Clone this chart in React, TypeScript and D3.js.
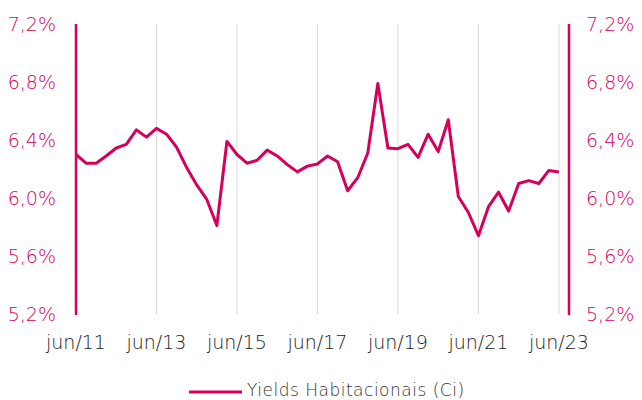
import React from "react";
import * as d3 from "d3";

const quarters: string[] = [
  "jun/11","set/11","dez/11","mar/12","jun/12","set/12","dez/12","mar/13",
  "jun/13","set/13","dez/13","mar/14","jun/14","set/14","dez/14","mar/15",
  "jun/15","set/15","dez/15","mar/16","jun/16","set/16","dez/16","mar/17",
  "jun/17","set/17","dez/17","mar/18","jun/18","set/18","dez/18","mar/19",
  "jun/19","set/19","dez/19","mar/20","jun/20","set/20","dez/20","mar/21",
  "jun/21","set/21","dez/21","mar/22","jun/22","set/22","dez/22","mar/23",
  "jun/23",
];
const yields: number[] = [
  6.30, 6.24, 6.24, 6.29, 6.345, 6.37, 6.47, 6.42,
  6.48, 6.44, 6.35, 6.21, 6.09, 5.99, 5.81, 6.39,
  6.30, 6.24, 6.26, 6.33, 6.29, 6.23, 6.18, 6.22,
  6.235, 6.29, 6.25, 6.05, 6.14, 6.31, 6.79, 6.345,
  6.34, 6.37, 6.28, 6.44, 6.32, 6.54, 6.01, 5.90,
  5.74, 5.94, 6.04, 5.91, 6.10, 6.12, 6.10, 6.19,
  6.18,
];
const xTickLabels: string[] = ["jun/11", "jun/13", "jun/15", "jun/17", "jun/19", "jun/21", "jun/23"];
const yTicks: number[] = [5.2, 5.6, 6.0, 6.4, 6.8, 7.2];
const seriesName = "Yields Habitacionais (Ci)";

const W = 642;
const H = 400;
const MAIN = "#D6005C";
const FONT = "'DejaVu Sans', sans-serif";

export default function App() {
  const x = d3.scaleLinear().domain([0, quarters.length]).range([76, 569]);
  const y = d3.scaleLinear().domain([5.2, 7.2]).range([314, 24]);
  const line = d3
    .line<number>()
    .x((_, i) => x(i))
    .y((d) => y(d))
    .curve(d3.curveLinear);
  const fmt = (v: number) => v.toFixed(1).replace(".", ",") + "%";

  return (
    <svg
      width={W}
      height={H}
      style={{ position: "absolute", left: 0, top: 0, background: "#fff" }}
      fontFamily={FONT}
    >
      {xTickLabels.map((lab) => {
        const i = quarters.indexOf(lab);
        return (
          <g key={lab}>
            {i > 0 && (
              <line x1={x(i)} x2={x(i)} y1={y(7.2)} y2={y(5.2)} stroke="#d9d9d9" strokeWidth={1} />
            )}
            <text x={x(i)} y={349} textAnchor="middle" fontSize={19} fill="#222" fontWeight={300}>
              {lab}
            </text>
          </g>
        );
      })}
      <line x1={x(0)} x2={x(0)} y1={y(7.2)} y2={y(5.2) + 1} stroke={MAIN} strokeWidth={2.5} />
      <line
        x1={x(quarters.length)}
        x2={x(quarters.length)}
        y1={y(7.2)}
        y2={y(5.2) + 1}
        stroke={MAIN}
        strokeWidth={2.5}
      />
      {yTicks.map((t) => (
        <g key={t}>
          <text x={56} y={y(t) + 7} textAnchor="end" fontSize={19} fill={MAIN} fontWeight={300}>
            {fmt(t)}
          </text>
          <text x={586} y={y(t) + 7} textAnchor="start" fontSize={19} fill={MAIN} fontWeight={300}>
            {fmt(t)}
          </text>
        </g>
      ))}
      <path d={line(yields) || ""} fill="none" stroke={MAIN} strokeWidth={3} strokeLinejoin="round" />
      <line x1={189} x2={242} y1={392} y2={392} stroke={MAIN} strokeWidth={3} />
      <text x={247} y={396} fontSize={17} letterSpacing={0.5} fill="#333" fontWeight={300}>
        {seriesName}
      </text>
    </svg>
  );
}
